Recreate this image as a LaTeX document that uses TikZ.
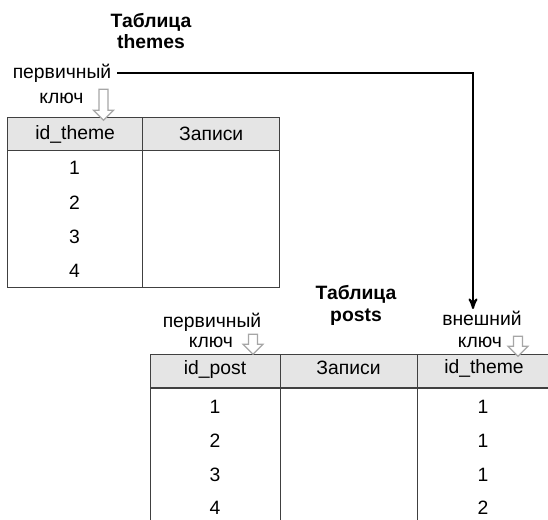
\documentclass[tikz,border=0pt]{standalone}
\usepackage{fontspec}
\setmainfont{Liberation Sans}
\usetikzlibrary{arrows,positioning,shapes.arrows}

\begin{document}
\begin{tikzpicture}[x=0.02cm, y=-0.02cm, >= stealth', semithick]
\tikzstyle{every node}=[font=\fontsize{11}{13}\selectfont, inner sep=0pt]
\tikzstyle{cell}=[draw=black!75, line width=0.8pt, anchor=north west]
\tikzstyle{head}=[cell, fill=black!10, minimum height=0.66cm]
\tikzstyle{title}=[font=\fontsize{11}{12.5}\selectfont\bfseries, align=center]
\tikzstyle{keyarrow}=[single arrow, draw=black!35, line width=0.7pt, fill=white, shape border rotate=270, inner sep=2.2pt, single arrow head extend=0.11cm, single arrow head indent=0pt]
\tikzstyle{fk}=[->, line width=1.1pt]

\useasboundingbox (0,0) rectangle (548,520);
\clip (0,0) rectangle (548,520);

% table themes
\node[title]			(tt)	at (151,31)		{Таблица\\themes};
\node[head, minimum width=2.7cm]	(th1)	at (7,117)	{};
\node[head, minimum width=2.74cm]	(th2)	at (142,117)	{};
\node[cell, minimum width=2.7cm, minimum height=2.74cm]	(tb1)	at (7,150)	{};
\node[cell, minimum width=2.74cm, minimum height=2.74cm]	(tb2)	at (142,150)	{};
\node	at (th1.center)	{id\_theme};
\node	at (th2.center)	{Записи};
\foreach \v [count=\i] in {1,2,3,4}
	\node	(tv\i)	at (74.5,{168+34.3*(\i-1)})	{\v};

\node	(pk1)	at (62,73)	{первичный};
\node	(k1)	at (61.5,98)	{ключ};
\node[keyarrow, minimum height=0.62cm]	(ka1)	at (103.5,102.5)	{};

% table posts
\node[title]			(pt)	at (356,305)		{Таблица\\posts};
\node[head, minimum width=2.6cm]	(ph1)	at (150,354)	{};
\node[head, minimum width=2.74cm]	(ph2)	at (280,354)	{};
\node[head, minimum width=2.68cm]	(ph3)	at (417,354)	{};
\node[cell, minimum width=2.6cm, minimum height=2.84cm]	(pb1)	at (150,388)	{};
\node[cell, minimum width=2.74cm, minimum height=2.84cm]	(pb2)	at (280,388)	{};
\node[cell, minimum width=2.68cm, minimum height=2.84cm]	(pb3)	at (417,388)	{};
\node	at (215,370)	{id\_post};
\node	at (348.5,368)	{Записи};
\node	at (484,368)	{id\_theme};
\foreach \v [count=\i] in {1,2,3,4}
	\node	(pv\i)	at (215,{407+33.7*(\i-1)})	{\v};
\foreach \v [count=\i] in {1,1,1,2}
	\node	(fv\i)	at (483,{407+33.7*(\i-1)})	{\v};

\node	(pk2)	at (212,322)	{первичный};
\node	(k2)	at (211,342)	{ключ};
\node[keyarrow, minimum height=0.4cm]	(ka2)	at (253,342)	{};

\node	(fk)	at (482,318)	{внешний};
\node	(k3)	at (480,342)	{ключ};
\node[keyarrow, minimum height=0.4cm]	(ka3)	at (518,344)	{};

% connector
\coordinate	(fkin)	at (473,309);
\draw[fk]	([xshift=3pt]pk1.east) -| (fkin);

\end{tikzpicture}
\end{document}
